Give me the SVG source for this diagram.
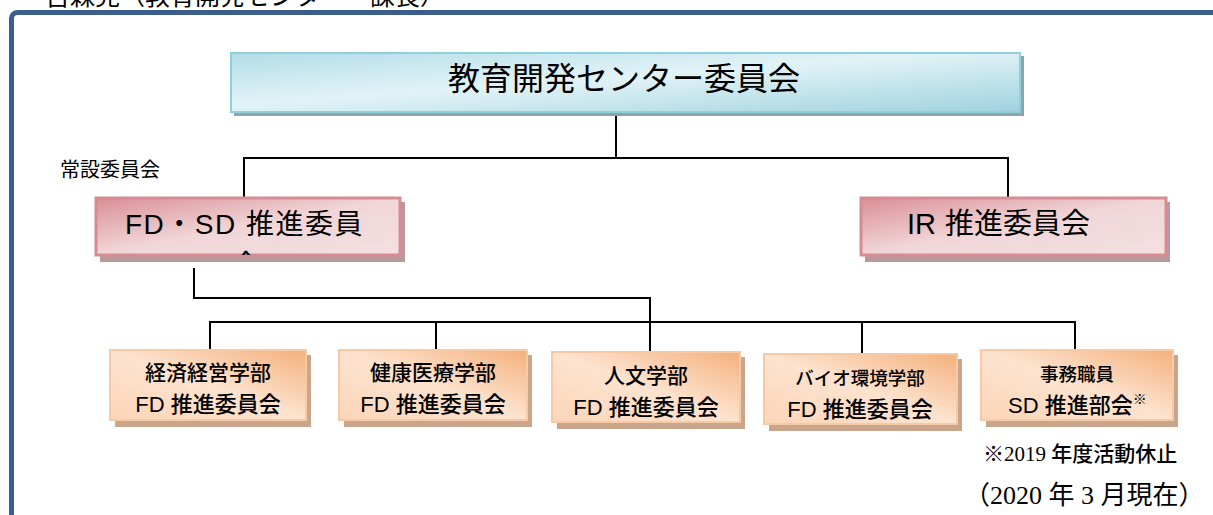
<svg xmlns="http://www.w3.org/2000/svg" width="1213" height="515" viewBox="0 0 1213 515">
<style>
.t{font-family:"Liberation Sans","Noto Sans CJK JP",sans-serif;fill:#000}
.m{font-family:"Liberation Serif","Noto Sans CJK JP",serif;fill:#000}
.ln{stroke:#000;stroke-width:2;fill:none}
</style>
<defs>
<linearGradient id="gB" x1="0" y1="0" x2="1" y2="1">
<stop offset="0" stop-color="#b3dde8"/><stop offset="0.45" stop-color="#e2f3f7"/><stop offset="1" stop-color="#9fd2df"/>
</linearGradient>
<linearGradient id="gP" x1="0" y1="0" x2="1" y2="1">
<stop offset="0" stop-color="#d98f95"/><stop offset="0.5" stop-color="#f1d6d8"/><stop offset="1" stop-color="#f3e0e2"/>
</linearGradient>
<linearGradient id="gO" x1="1" y1="0" x2="0" y2="1">
<stop offset="0" stop-color="#f4b07c"/><stop offset="0.5" stop-color="#fde3cf"/><stop offset="1" stop-color="#fbd5b8"/>
</linearGradient>
<clipPath id="clipFD"><rect x="96" y="198" width="304" height="57"/></clipPath>
</defs>
<text class="t" x="45" y="5" font-size="25">吉森晃（教育開発センター　課長）</text>
<rect x="11.5" y="12.5" width="1230" height="540" rx="6" fill="none" stroke="#3b5e8c" stroke-width="5"/>
<g id="connectors">
<polyline class="ln" points="616,114 616,158"/>
<polyline class="ln" points="244,197 244,158 1008,158 1008,197"/>
<polyline class="ln" points="194,268 194,298 650,298 650,352"/>
<polyline class="ln" points="210,350 210,322 1075,322 1075,350"/>
<polyline class="ln" points="436,322 436,350"/>
<polyline class="ln" points="862,322 862,354"/>
</g>
<text class="t" x="60" y="177" font-size="20">常設委員会</text>
<g id="n-center">
<rect x="234" y="56" width="790" height="60" fill="#8fa3a8"/>
<rect x="231" y="53" width="789" height="59" fill="url(#gB)" stroke="#8fd0de" stroke-width="2"/>
<text class="t" x="624" y="90" font-size="32" text-anchor="middle">教育開発センター委員会</text>
</g>
<g id="n-fdsd">
<rect x="100" y="202" width="305" height="60" fill="#b89a9d"/>
<rect x="96" y="198" width="304" height="57" fill="url(#gP)" stroke="#d68c92" stroke-width="3"/>
<text class="t" x="125" y="234" font-size="28" letter-spacing="1.5">FD・SD 推進委員</text>
<text class="t" x="246" y="275" font-size="28" text-anchor="middle" clip-path="url(#clipFD)">会</text>
</g>
<g id="n-ir">
<rect x="865" y="202" width="305" height="60" fill="#b89a9d"/>
<rect x="861" y="198" width="305" height="57" fill="url(#gP)" stroke="#d68c92" stroke-width="3"/>
<text class="t" y="234" font-size="29"><tspan x="907">IR</tspan><tspan x="945">推進委員会</tspan></text>
</g>
<g id="n-keizai">
<rect x="115" y="355" width="196" height="72" fill="#c9a58c"/>
<rect x="110" y="350" width="196" height="70" fill="url(#gO)" stroke="#f7c9a5" stroke-width="2"/>
<text class="t" x="208" y="380" font-size="21" font-weight="500" text-anchor="middle">経済経営学部</text>
<text class="t" x="208" y="412" font-size="22" font-weight="500" text-anchor="middle">FD 推進委員会</text>
</g>
<g id="n-kenko">
<rect x="344" y="355" width="188" height="72" fill="#c9a58c"/>
<rect x="339" y="350" width="188" height="70" fill="url(#gO)" stroke="#f7c9a5" stroke-width="2"/>
<text class="t" x="433" y="380" font-size="21" font-weight="500" text-anchor="middle">健康医療学部</text>
<text class="t" x="433" y="412" font-size="22" font-weight="500" text-anchor="middle">FD 推進委員会</text>
</g>
<g id="n-jinbun">
<rect x="557" y="357" width="188" height="72" fill="#c9a58c"/>
<rect x="552" y="352" width="188" height="70" fill="url(#gO)" stroke="#f7c9a5" stroke-width="2"/>
<text class="t" x="646" y="383" font-size="21" font-weight="500" text-anchor="middle">人文学部</text>
<text class="t" x="646" y="415" font-size="22" font-weight="500" text-anchor="middle">FD 推進委員会</text>
</g>
<g id="n-bio">
<rect x="769" y="359" width="193" height="72" fill="#c9a58c"/>
<rect x="764" y="354" width="193" height="70" fill="url(#gO)" stroke="#f7c9a5" stroke-width="2"/>
<text class="t" x="860" y="385" font-size="18.5" font-weight="500" text-anchor="middle">バイオ環境学部</text>
<text class="t" x="860" y="417" font-size="22" font-weight="500" text-anchor="middle">FD 推進委員会</text>
</g>
<g id="n-jimu">
<rect x="986" y="355" width="192" height="72" fill="#c9a58c"/>
<rect x="981" y="350" width="192" height="70" fill="url(#gO)" stroke="#f7c9a5" stroke-width="2"/>
<text class="t" x="1077" y="381" font-size="18.5" font-weight="500" text-anchor="middle">事務職員</text>
<text class="t" x="1008" y="413" font-size="22" font-weight="500">SD 推進部会<tspan font-size="14" dy="-9">※</tspan></text>
</g>
<text class="m" x="983" y="461" font-size="21">※2019 <tspan font-family="Noto Sans CJK JP" font-weight="500">年度活動休止</tspan></text>
<text class="m" x="964" y="504" font-size="26">（2020 年 3 月現在）</text>
</svg>
